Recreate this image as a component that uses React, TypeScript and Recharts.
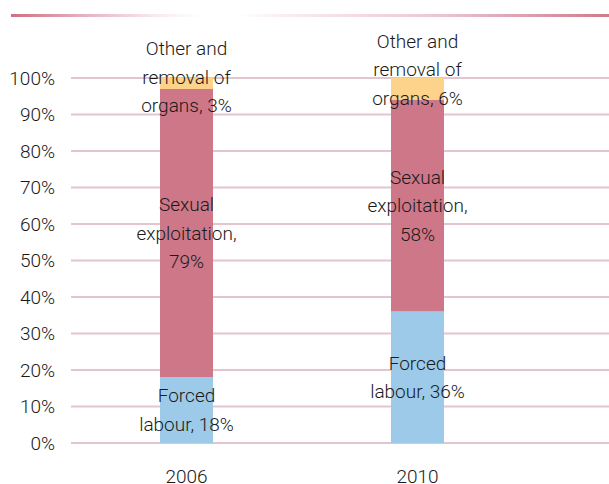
import React from 'react';
import { BarChart, Bar, XAxis, YAxis, CartesianGrid, LabelList } from 'recharts';

const years = ['2006', '2010'];
const forcedLabour = [18, 36];
const sexualExploitation = [79, 58];
const otherRemoval = [3, 6];
const yTicks = [0, 10, 20, 30, 40, 50, 60, 70, 80, 90, 100];

// label lines per series, {v} gets the value
const forcedLines = ['Forced', 'labour, {v}%'];
const sexualLines = ['Sexual', 'exploitation,', '{v}%'];
const otherLines = ['Other and', 'removal of', 'organs, {v}%'];

const data = years.map((year, i) => ({
  year,
  forced: forcedLabour[i],
  sexual: sexualExploitation[i],
  other: otherRemoval[i],
}));

const FONT = 'Roboto, "Open Sans", sans-serif';
const FS = 19;
const WEIGHT = 300;
const LINE_H = 28.5;
// the "other" labels sit a bit higher than the segment middle in the original
const otherShift = [-6, -19];

const makeLabel = (lines: string[], shift?: number[]) => (props: any) => {
  const { x, y, width, height, value, index } = props;
  const cx = x + width / 2;
  const cy = y + height / 2 + (shift ? shift[index] : 0);
  const start = cy - ((lines.length - 1) * LINE_H) / 2;
  return (
    <text x={cx} y={start} textAnchor="middle" fill="#1a1a1a" fontSize={FS} fontWeight={WEIGHT} fontFamily={FONT}>
      {lines.map((l, k) => (
        <tspan key={k} x={cx} y={start + k * LINE_H} dominantBaseline="central">
          {l.replace('{v}', String(value))}
        </tspan>
      ))}
    </text>
  );
};

const App = () => {
  return (
    <div style={{ position: 'absolute', left: 0, top: 0, width: 609, height: 484, background: '#fff' }}>
      <div
        style={{
          position: 'absolute',
          left: 11,
          top: 14,
          width: 598,
          height: 3,
          background:
            'linear-gradient(to right, #cf6f86 0%, #e6b0bd 12%, #f8e9ed 24%, #ffffff 32%, #ffffff 38%, #f9ecef 46%, #eccad3 70%, #d07a8e 100%)',
        }}
      />
      <BarChart
        width={609}
        height={484}
        data={data}
        margin={{ top: 78, right: 0, bottom: 0, left: 0 }}
        barSize={53}
      >
        <CartesianGrid vertical={false} stroke="#e3c5cf" strokeWidth={2} />
        <XAxis
          dataKey="year"
          axisLine={false}
          tickLine={false}
          tickSize={0}
          tickMargin={27}
          height={41}
          padding={{ left: 0, right: 76 }}
          tick={{ fill: '#1a1a1a', fontSize: FS, fontWeight: WEIGHT, fontFamily: FONT }}
        />
        <YAxis
          domain={[0, 100]}
          ticks={yTicks}
          interval={0}
          axisLine={false}
          tickLine={false}
          tickSize={0}
          tickMargin={16}
          width={71}
          tickFormatter={(v) => `${v}%`}
          tick={{ fill: '#1a1a1a', fontSize: FS, fontWeight: WEIGHT, fontFamily: FONT }}
        />
        <Bar dataKey="forced" stackId="a" fill="#9ccae8" isAnimationActive={false}>
          <LabelList dataKey="forced" content={makeLabel(forcedLines)} />
        </Bar>
        <Bar dataKey="sexual" stackId="a" fill="#cd7789" isAnimationActive={false}>
          <LabelList dataKey="sexual" content={makeLabel(sexualLines)} />
        </Bar>
        <Bar dataKey="other" stackId="a" fill="#fdd38b" isAnimationActive={false}>
          <LabelList dataKey="other" content={makeLabel(otherLines, otherShift)} />
        </Bar>
      </BarChart>
    </div>
  );
};

export default App;
